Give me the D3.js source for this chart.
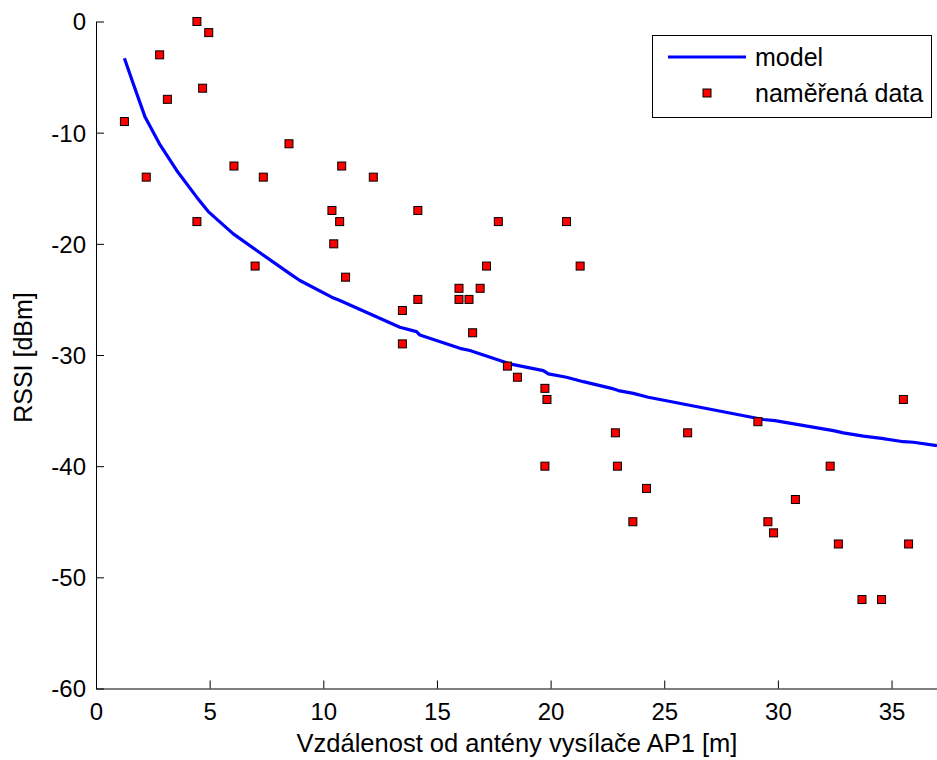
<!DOCTYPE html>
<html>
<head>
<meta charset="utf-8">
<script src="https://cdn.jsdelivr.net/npm/d3@7"></script>
<style>
body { margin: 0; background: #fff; }
svg { display: block; font-family: "Liberation Sans", Arial, sans-serif; }
</style>
</head>
<body>
<svg id="chart" width="937" height="760"></svg>
<script>
// measured points (distance m, RSSI dBm)
var measDist = [1.25, 2.21, 2.80, 3.14, 4.44, 4.96, 4.69, 4.44, 6.07, 7.36, 7.0, 8.49,
	10.81, 12.2, 10.38, 10.72, 10.46, 10.98, 14.16, 14.16, 13.48, 13.48, 15.97, 15.97,
	16.41, 16.57, 16.9, 17.18, 17.7, 18.1, 18.54, 19.75, 19.84, 19.75, 20.7, 21.3,
	22.85, 22.94, 24.22, 23.62, 26.03, 29.12, 29.56, 29.81, 30.77, 32.3, 32.66, 33.7,
	34.56, 35.52, 35.75];
var measRssi = [-9, -14, -3, -7, 0, -1, -6, -18, -13, -14, -22, -11,
	-13, -14, -17, -18, -20, -23, -17, -25, -26, -29, -24, -25,
	-25, -28, -24, -22, -18, -31, -32, -33, -34, -40, -18, -22,
	-37, -40, -42, -45, -37, -36, -45, -46, -43, -40, -47, -52,
	-52, -34, -47];

// model curve
var modelDist = [1.25, 1.64, 2.16, 2.82, 3.55, 4.43, 4.94, 6.04, 7.07, 8.54, 8.97,
	10.37, 10.73, 13.37, 14.1, 14.25, 16.01, 16.45, 17.77, 18.2, 19.68, 19.9, 20.7,
	21.44, 22.68, 22.98, 23.64, 24.3, 26.57, 29.36, 29.87, 32.44, 32.88, 33.76,
	34.56, 35.52, 35.96, 37.0];
var modelRssi = [-3.3, -5.6, -8.6, -11.1, -13.4, -15.8, -17.1, -19.1, -20.6, -22.7, -23.3,
	-24.8, -25.1, -27.5, -27.9, -28.2, -29.4, -29.6, -30.5, -30.8, -31.4, -31.7, -32.0,
	-32.4, -33.0, -33.2, -33.45, -33.8, -34.7, -35.8, -35.9, -36.8, -37.0, -37.3,
	-37.5, -37.8, -37.85, -38.15];

var xTicks = [0, 5, 10, 15, 20, 25, 30, 35];
var yTicks = [0, -10, -20, -30, -40, -50, -60];
var legendLabels = ["model", "naměřená data"];

var svg = d3.select("#chart");
var plotLeft = 96, plotTop = 21.5, plotRight = 937, plotBottom = 688.5;

var x = d3.scaleLinear().domain([0, 37]).range([plotLeft, plotRight]);
var y = d3.scaleLinear().domain([-60, 0]).range([plotBottom, plotTop]);

function tr(a, b) {
	return "translate(" + a + "," + b + ")";
}

// axes, ticks pointing inward like matlab
var xAxis = svg.append("g")
	.attr("transform", tr(0, plotBottom))
	.call(d3.axisTop(x).tickValues(xTicks).tickSize(8).tickSizeOuter(0));
xAxis.selectAll("text").remove();
xAxis.selectAll(".tick").append("text")
	.attr("y", 31)
	.attr("fill", "#000")
	.attr("text-anchor", "middle")
	.style("font-size", "24px")
	.text(function (d) { return d; });

var yAxis = svg.append("g")
	.attr("transform", tr(plotLeft, 0))
	.call(d3.axisRight(y).tickValues(yTicks).tickSize(8).tickSizeOuter(0));
yAxis.selectAll("text").remove();
yAxis.selectAll(".tick").append("text")
	.attr("x", -10)
	.attr("dy", "0.35em")
	.attr("fill", "#000")
	.attr("text-anchor", "end")
	.style("font-size", "24px")
	.text(function (d) { return d; });

svg.selectAll(".domain").attr("stroke", "#000").attr("stroke-width", 1);
svg.selectAll(".tick line").attr("stroke", "#000").attr("stroke-width", 1);

svg.append("text")
	.attr("x", 517)
	.attr("y", 752)
	.attr("text-anchor", "middle")
	.style("font-size", "25.5px")
	.text("Vzdálenost od antény vysílače AP1 [m]");

svg.append("text")
	.attr("transform", tr(31.5, 357.5) + " rotate(-90)")
	.attr("text-anchor", "middle")
	.style("font-size", "25px")
	.text("RSSI [dBm]");

// model line
var line = d3.line()
	.x(function (d, i) { return x(modelDist[i]); })
	.y(function (d, i) { return y(modelRssi[i]); });

svg.append("path")
	.datum(modelDist)
	.attr("d", line)
	.attr("fill", "none")
	.attr("stroke", "#0000ff")
	.attr("stroke-width", 3.2)
	.attr("stroke-linejoin", "round");

// measured markers
function marker(sel) {
	sel.attr("width", 8).attr("height", 8)
		.attr("fill", "#ff0000")
		.attr("stroke", "#000")
		.attr("stroke-width", 1);
}

svg.append("g").selectAll("rect")
	.data(measDist)
	.enter().append("rect")
	.attr("x", function (d) { return x(d) - 4; })
	.attr("y", function (d, i) { return y(measRssi[i]) - 4; })
	.call(marker);

// legend
var legend = svg.append("g");
legend.append("rect")
	.attr("x", 652.5).attr("y", 35.5)
	.attr("width", 279).attr("height", 82)
	.attr("fill", "#fff")
	.attr("stroke", "#000")
	.attr("stroke-width", 1);
legend.append("line")
	.attr("x1", 668).attr("x2", 746)
	.attr("y1", 57).attr("y2", 57)
	.attr("stroke", "#0000ff")
	.attr("stroke-width", 3.2);
legend.append("rect")
	.attr("x", 703).attr("y", 89)
	.call(marker);
legend.selectAll("text.lab")
	.data(legendLabels)
	.enter().append("text")
	.attr("class", "lab")
	.attr("x", 755)
	.attr("y", function (d, i) { return 66 + i * 35.5; })
	.style("font-size", "25px")
	.text(function (d) { return d; });
</script>
</body>
</html>
